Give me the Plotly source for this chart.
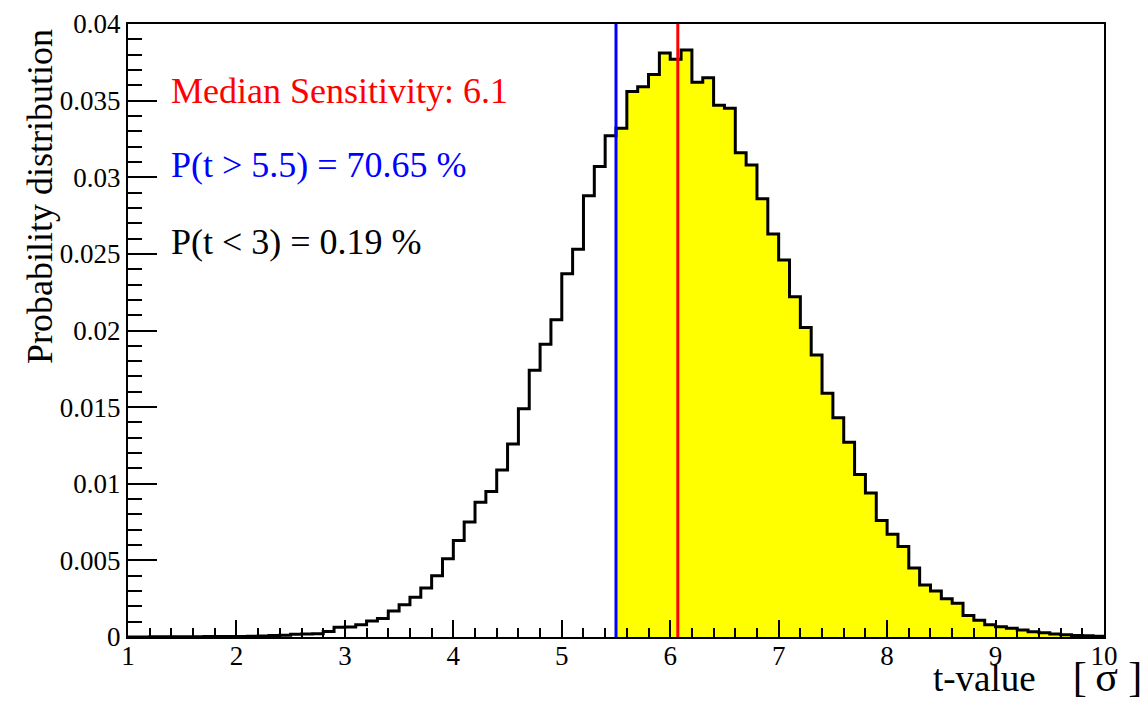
import plotly.graph_objects as go

# ---- data ----
bin_lo = 1.0
bin_width = 0.1
prob = [
    0.0, 0.0, 0.00001, 0.00001, 0.00001, 0.00002, 0.00002, 0.00003, 0.00003, 0.00003,
    0.00003, 0.00005, 0.00007, 0.0001, 0.00012, 0.00018, 0.0002, 0.00022, 0.00036, 0.00064,
    0.00066, 0.0008, 0.00104, 0.0012, 0.0017, 0.0021, 0.0026, 0.0032, 0.0040, 0.0051,
    0.0063, 0.0075, 0.0088, 0.0095, 0.0109, 0.0126, 0.0149, 0.0174, 0.0191, 0.0207,
    0.0237, 0.0253, 0.0288, 0.0307, 0.0327, 0.0332, 0.0356, 0.0359, 0.0367, 0.0381,
    0.0377, 0.0383, 0.0362, 0.0365, 0.0347, 0.0345, 0.0316, 0.0308, 0.0286, 0.0263,
    0.0246, 0.0222, 0.0202, 0.0184, 0.0159, 0.0143, 0.0127, 0.0106, 0.0094, 0.0076,
    0.0067, 0.0059, 0.0045, 0.0034, 0.0030, 0.0025, 0.0022, 0.0014, 0.0011, 0.0008,
    0.00067, 0.00057, 0.00046, 0.00035, 0.00028, 0.0002, 0.00015, 0.0001, 0.00008, 0.00005,
]
threshold = 5.5
median = 6.07
median_label = "6.1"
p_above = "70.65"
p_below = "0.19"
y_tickvals = [0, 0.005, 0.01, 0.015, 0.02, 0.025, 0.03, 0.035, 0.04]
y_ticktext = ["0", "0.005", "0.01", "0.015", "0.02", "0.025", "0.03", "0.035", "0.04"]
x_tickvals = [1, 2, 3, 4, 5, 6, 7, 8, 9, 10]

# ---- build step arrays ----
n = len(prob)
edges = [round(bin_lo + i * bin_width, 6) for i in range(n + 1)]
step_x = edges
step_y = prob + [prob[-1]]

fill_x, fill_y = [], []
for i in range(n):
    if edges[i] >= threshold - 1e-9:
        fill_x.append(edges[i])
        fill_y.append(prob[i])
fill_x.append(edges[-1])
fill_y.append(prob[-1])

FONT = "Liberation Serif, Times New Roman, serif"

fig = go.Figure()
fig.add_trace(go.Scatter(x=fill_x, y=fill_y, mode="lines", line=dict(shape="hv", width=0, color="#ffff00"),
                         fill="tozeroy", fillcolor="#ffff00", hoverinfo="skip", showlegend=False))
fig.add_trace(go.Scatter(x=step_x, y=step_y, mode="lines", line=dict(shape="hv", width=3, color="black"),
                         showlegend=False))
fig.add_trace(go.Scatter(x=[threshold, threshold], y=[0, 0.04], mode="lines",
                         line=dict(color="#0000ff", width=3), showlegend=False))
fig.add_trace(go.Scatter(x=[median, median], y=[0, 0.04], mode="lines",
                         line=dict(color="#ff0000", width=3), showlegend=False))

annos = [
    ("Median Sensitivity: " + median_label, "#ff0000", 0.03565),
    ("P(t > 5.5) = " + p_above + " %", "#0000ff", 0.0308),
    ("P(t < 3) = " + p_below + " %", "black", 0.0258),
]
for txt, col, yy in annos:
    fig.add_annotation(x=1.38, y=yy, xref="x", yref="y", text=txt, showarrow=False,
                       xanchor="left", yanchor="middle", font=dict(family=FONT, size=36, color=col))

fig.add_annotation(x=1.0405, y=-0.066, xref="paper", yref="paper",
                   text="t-value&nbsp;&nbsp;&nbsp;&nbsp;<span style='font-size:42px'>[\u2009σ&nbsp;]</span>",
                   showarrow=False, xanchor="right", yanchor="middle",
                   font=dict(family=FONT, size=37, color="black"))
fig.add_annotation(x=-0.09, y=0.718, xref="paper", yref="paper", text="Probability distribution",
                   showarrow=False, textangle=-90, xanchor="center", yanchor="middle",
                   font=dict(family=FONT, size=36, color="black"))

fig.update_xaxes(range=[1, 10], tickvals=x_tickvals, ticks="inside", ticklen=17, tickwidth=2,
                 tickcolor="black", showline=True, linecolor="black", linewidth=2, mirror=True,
                 showgrid=False, zeroline=False, ticklabelposition="outside", ticklabelstandoff=-6,
                 minor=dict(dtick=0.2, ticks="inside", ticklen=9, tickwidth=2, tickcolor="black", showgrid=False),
                 tickfont=dict(family=FONT, size=27, color="black"))
fig.update_yaxes(range=[0, 0.04], tickvals=y_tickvals, ticktext=y_ticktext, ticks="inside", ticklen=29,
                 tickwidth=2, tickcolor="black", showline=True, linecolor="black", linewidth=2, mirror=True,
                 showgrid=False, zeroline=False,
                 minor=dict(dtick=0.001, tick0=0, ticks="inside", ticklen=14, tickwidth=2, tickcolor="black", showgrid=False),
                 tickfont=dict(family=FONT, size=27, color="black"))

fig.update_layout(width=1146, height=703, margin=dict(l=128, r=42, t=24, b=66, autoexpand=False),
                  plot_bgcolor="white", paper_bgcolor="white", showlegend=False)

fig.write_html("out.html")
